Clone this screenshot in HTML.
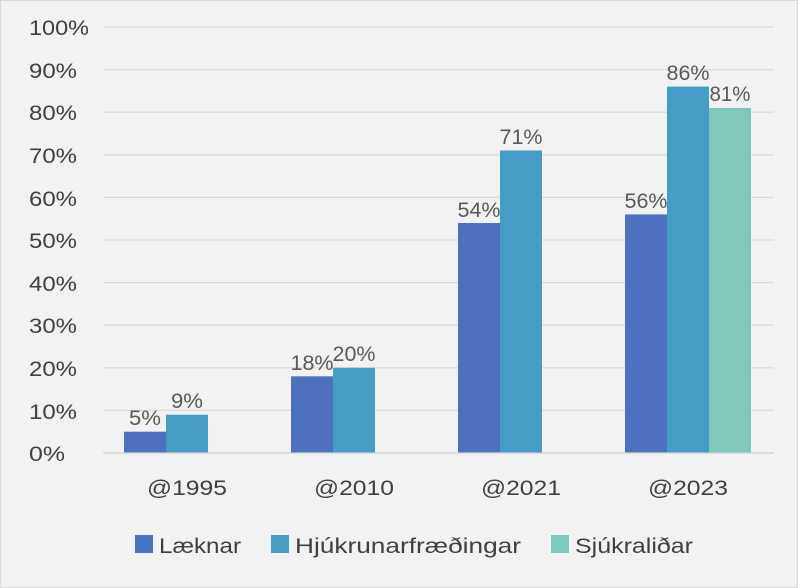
<!DOCTYPE html>
<html><head><style>
body{margin:0;background:#fff}
svg{display:block}
text{font-family:"Liberation Sans",sans-serif}
</style></head><body>
<svg width="798" height="588" viewBox="0 0 798 588">
<rect x="0.5" y="0.5" width="797" height="587" fill="#f2f2f2" stroke="#d9d9d9"/>
<g stroke="#dcdcdc" stroke-width="1.3">
<line x1="103" x2="774" y1="27" y2="27"/>
<line x1="103" x2="774" y1="69.6" y2="69.6"/>
<line x1="103" x2="774" y1="112.2" y2="112.2"/>
<line x1="103" x2="774" y1="154.8" y2="154.8"/>
<line x1="103" x2="774" y1="197.4" y2="197.4"/>
<line x1="103" x2="774" y1="240" y2="240"/>
<line x1="103" x2="774" y1="282.6" y2="282.6"/>
<line x1="103" x2="774" y1="325.2" y2="325.2"/>
<line x1="103" x2="774" y1="367.8" y2="367.8"/>
<line x1="103" x2="774" y1="410.4" y2="410.4"/>
</g>
<g font-size="21" fill="#404040">
<text lengthAdjust="spacingAndGlyphs" x="29" y="35" textLength="60">100%</text>
<text lengthAdjust="spacingAndGlyphs" x="29" y="78" textLength="48">90%</text>
<text lengthAdjust="spacingAndGlyphs" x="29" y="120" textLength="48">80%</text>
<text lengthAdjust="spacingAndGlyphs" x="29" y="163" textLength="48">70%</text>
<text lengthAdjust="spacingAndGlyphs" x="29" y="206" textLength="48">60%</text>
<text lengthAdjust="spacingAndGlyphs" x="29" y="248" textLength="48">50%</text>
<text lengthAdjust="spacingAndGlyphs" x="29" y="291" textLength="48">40%</text>
<text lengthAdjust="spacingAndGlyphs" x="29" y="333" textLength="48">30%</text>
<text lengthAdjust="spacingAndGlyphs" x="29" y="376" textLength="48">20%</text>
<text lengthAdjust="spacingAndGlyphs" x="29" y="419" textLength="48">10%</text>
<text lengthAdjust="spacingAndGlyphs" x="29" y="461" textLength="36">0%</text>
</g>
<g>
<rect x="124" y="431.7" width="42" height="21.3" fill="#4e71bf"/>
<rect x="166" y="414.7" width="42" height="38.3" fill="#459cc4"/>
<rect x="291" y="376.3" width="42" height="76.7" fill="#4e71bf"/>
<rect x="333" y="367.8" width="42" height="85.2" fill="#459cc4"/>
<rect x="458" y="223" width="42" height="230" fill="#4e71bf"/>
<rect x="500" y="150.5" width="42" height="302.5" fill="#459cc4"/>
<rect x="625" y="214.4" width="42" height="238.6" fill="#4e71bf"/>
<rect x="667" y="86.6" width="42" height="366.4" fill="#459cc4"/>
<rect x="709" y="107.9" width="42" height="345.1" fill="#80c9ba"/>
</g>
<line x1="103" x2="774" y1="453" y2="453" stroke="#d0d0d0" stroke-width="1.3"/>
<g font-size="21" fill="#595959" text-anchor="middle">
<text lengthAdjust="spacingAndGlyphs" x="145" y="425" textLength="32">5%</text>
<text lengthAdjust="spacingAndGlyphs" x="187" y="408" textLength="32">9%</text>
<text lengthAdjust="spacingAndGlyphs" x="312" y="370" textLength="43">18%</text>
<text lengthAdjust="spacingAndGlyphs" x="354" y="361" textLength="43">20%</text>
<text lengthAdjust="spacingAndGlyphs" x="479" y="217" textLength="43">54%</text>
<text lengthAdjust="spacingAndGlyphs" x="521" y="144" textLength="43">71%</text>
<text lengthAdjust="spacingAndGlyphs" x="646" y="208" textLength="43">56%</text>
<text lengthAdjust="spacingAndGlyphs" x="688" y="80" textLength="43">86%</text>
<text lengthAdjust="spacingAndGlyphs" x="730" y="101" textLength="41">81%</text>
</g>
<g font-size="21" fill="#404040" text-anchor="middle">
<text lengthAdjust="spacingAndGlyphs" x="187" y="495" textLength="80">@1995</text>
<text lengthAdjust="spacingAndGlyphs" x="354" y="495" textLength="80">@2010</text>
<text lengthAdjust="spacingAndGlyphs" x="521" y="495" textLength="80">@2021</text>
<text lengthAdjust="spacingAndGlyphs" x="688" y="495" textLength="80">@2023</text>
</g>
<g font-size="21" fill="#404040">
<rect x="135" y="535" width="18" height="18" fill="#4e71bf"/>
<text lengthAdjust="spacingAndGlyphs" x="159" y="553" textLength="82">Læknar</text>
<rect x="271" y="535" width="18" height="18" fill="#459cc4"/>
<text lengthAdjust="spacingAndGlyphs" x="295" y="553" textLength="226">Hjúkrunarfræðingar</text>
<rect x="551" y="535" width="18" height="18" fill="#80c9ba"/>
<text lengthAdjust="spacingAndGlyphs" x="575" y="553" textLength="118">Sjúkraliðar</text>
</g>
</svg>
</body></html>
